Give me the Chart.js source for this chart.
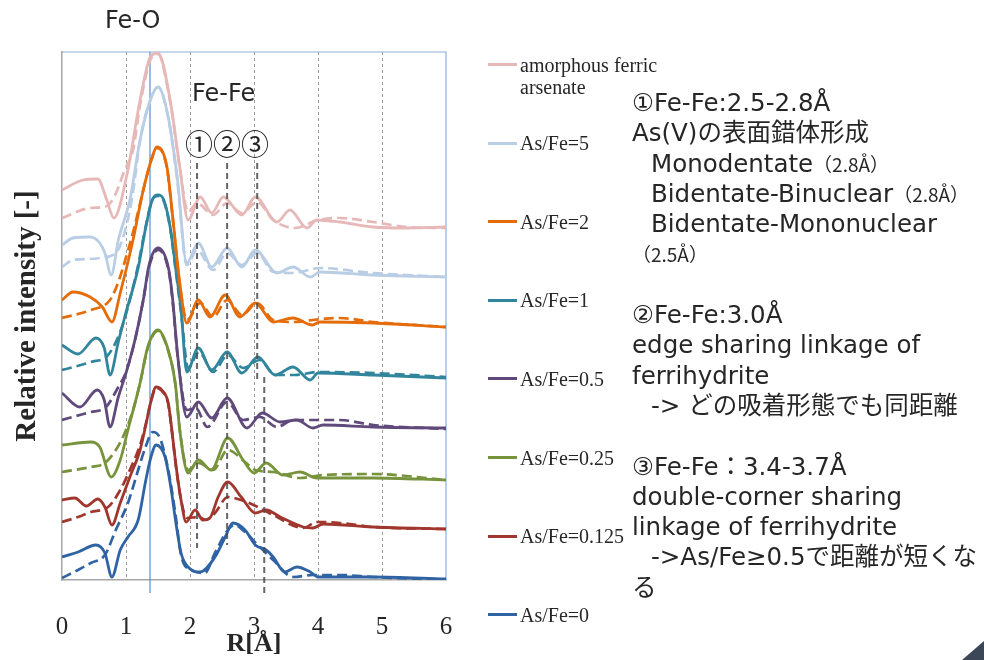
<!DOCTYPE html>
<html lang="ja">
<head>
<meta charset="utf-8">
<title>Fe K-edge EXAFS RSF</title>
<script src="https://cdn.jsdelivr.net/npm/chart.js@4.4.1/dist/chart.umd.min.js"></script>
<style>
  html, body { margin: 0; padding: 0; background: #fff; }
  #stage { position: relative; width: 984px; height: 660px; overflow: hidden; }
  #stage canvas { position: absolute; left: 0; top: 0; }
  .note { position: absolute; white-space: nowrap; color: #262626;
          font-family: "DejaVu Sans", "Noto Sans CJK JP", sans-serif; }
  .note small { font-family: "Noto Sans CJK JP", sans-serif; font-size: 19px; }
  .note .in { padding-left: 19px; }
  .leg-line { position: absolute; left: 488px; width: 29px; height: 3px; }
  .leg-text { position: absolute; left: 520px; width: 150px; color: #262626;
              font-family: "Liberation Serif", serif; font-size: 20px; line-height: 22px; }
  #corner { position: absolute; right: 0; bottom: 0; width: 22px; height: 19px; background: #3B4756;
            clip-path: polygon(100% 0, 100% 100%, 0 100%); }
</style>
</head>
<body>
<div id="stage">
  <canvas id="rsf" width="984" height="660"></canvas>
  <div class="note" style="left:105px;top:4px;font-size:24px;line-height:32px;">Fe-O</div>
  <div class="note" style="left:192px;top:77px;font-size:24px;line-height:32px;">Fe-Fe</div>
  <div class="note" style="left:185px;top:125px;font-size:28px;line-height:36px;font-family:'Noto Sans CJK JP',sans-serif;">①②③</div>
  <div id="legend"></div>
  <div class="note" style="left:632px;top:88px;font-size:24.5px;line-height:30.3px;">
    <div>①Fe-Fe:2.5-2.8Å</div>
    <div>As(V)の表面錯体形成</div>
    <div class="in">Monodentate<small>（2.8Å）</small></div>
    <div class="in">Bidentate-Binuclear<small>（2.8Å）</small></div>
    <div class="in">Bidentate-Mononuclear</div>
    <div><small>（2.5Å）</small></div>
    <div>&nbsp;</div>
    <div>②Fe-Fe:3.0Å</div>
    <div>edge sharing linkage of</div>
    <div>ferrihydrite</div>
    <div class="in">-&gt; どの吸着形態でも同距離</div>
    <div>&nbsp;</div>
    <div>③Fe-Fe：3.4-3.7Å</div>
    <div>double-corner sharing</div>
    <div>linkage of ferrihydrite</div>
    <div class="in">-&gt;As/Fe≥0.5で距離が短くな</div>
    <div>る</div>
  </div>
  <div id="corner"></div>
</div>
<script>
// sample names, top to bottom
const seriesLabels = ['amorphous ferric arsenate', 'As/Fe=5', 'As/Fe=2', 'As/Fe=1',
                      'As/Fe=0.5', 'As/Fe=0.25', 'As/Fe=0.125', 'As/Fe=0'];
const rTicks = [0, 1, 2, 3, 4, 5, 6];

// measured spectra [R, relative intensity incl. offset]
const expAmorphous = [[0,39.0],[0.33,40.0],[0.56,40.1],[0.70,38.0],[0.81,36.2],[1.02,40.7],[1.22,48.0],[1.38,52.3],[1.5,52.7],[1.69,48.0],[1.84,41.3],[1.97,36.0],[2.16,38.3],[2.34,36.7],[2.52,38.3],[2.81,36.5],[3.02,38.3],[3.36,35.8],[3.56,37.0],[3.83,35.2],[3.98,36.0],[4.34,35.8],[4.86,35.3],[5.39,35.2],[6,35.3]];
const expAs5 = [[0,33.5],[0.17,34.2],[0.44,34.3],[0.59,33.7],[0.67,32.7],[0.77,30.5],[0.88,34.0],[1.06,38.0],[1.22,44.0],[1.38,48.0],[1.5,49.3],[1.66,46.3],[1.80,40.3],[1.95,31.7],[2.13,33.7],[2.34,31.3],[2.58,33.2],[2.81,31.3],[3.02,33.0],[3.36,30.7],[3.61,31.3],[3.88,30.3],[4.03,30.8],[4.86,30.5],[6,30.3]];
const expAs2 = [[0,28.0],[0.17,28.8],[0.44,28.3],[0.63,27.3],[0.78,25.8],[0.91,28.7],[1.11,34.0],[1.27,39.0],[1.41,42.3],[1.48,43.3],[1.64,41.3],[1.73,36.3],[1.84,29.7],[1.95,25.7],[2.13,28.0],[2.31,26.3],[2.55,28.5],[2.78,26.3],[3.02,27.7],[3.3,25.8],[3.61,26.2],[3.91,25.5],[4.03,25.8],[4.86,25.7],[6,25.3]];
const expAs1 = [[0,23.5],[0.25,22.6],[0.53,24.2],[0.66,23.2],[0.75,20.5],[0.88,23.8],[0.98,26.3],[1.19,31.2],[1.31,35.3],[1.41,38.0],[1.5,38.5],[1.59,38.0],[1.69,35.3],[1.78,31.0],[1.86,27.0],[1.95,20.8],[2.13,23.2],[2.34,21.0],[2.58,22.8],[2.81,20.7],[3.06,22.3],[3.33,20.5],[3.61,21.3],[3.88,20.0],[4.0,20.7],[4.86,20.5],[6,20.2]];
const expAs05 = [[0,18.7],[0.28,17.3],[0.55,19.0],[0.66,18.0],[0.75,15.3],[0.88,18.3],[1.0,20.7],[1.14,24.0],[1.27,28.0],[1.36,31.5],[1.5,33.2],[1.67,31.0],[1.73,28.0],[1.81,22.3],[1.95,16.3],[2.13,17.8],[2.34,16.2],[2.58,18.2],[2.89,15.2],[3.13,16.7],[3.41,15.8],[3.67,16.0],[3.92,15.2],[4.08,15.5],[4.86,15.3],[6,15.2]];
const expAs025 = [[0,13.5],[0.45,13.8],[0.59,13.3],[0.77,10.3],[0.91,12.0],[1.03,15.0],[1.22,19.7],[1.34,23.3],[1.5,25.0],[1.66,23.0],[1.77,19.7],[1.84,15.0],[1.97,10.7],[2.13,12.0],[2.33,11.0],[2.59,14.2],[2.83,12.0],[3.0,10.7],[3.19,11.7],[3.45,10.5],[3.72,10.8],[3.98,10.2],[4.86,10.2],[6,10.0]];
const expAs0125 = [[0,8.0],[0.2,8.2],[0.38,7.4],[0.56,8.1],[0.67,7.3],[0.78,5.5],[0.91,7.7],[1.06,10.3],[1.22,13.0],[1.31,15.5],[1.38,17.6],[1.47,19.3],[1.56,19.0],[1.66,17.7],[1.72,14.8],[1.78,11.5],[1.86,8.0],[1.94,5.8],[2.08,7.0],[2.2,6.0],[2.31,6.2],[2.44,8.3],[2.59,9.8],[2.8,8.3],[3.02,6.7],[3.19,7.0],[3.41,6.3],[3.77,5.3],[3.92,5.2],[4.08,5.6],[4.86,5.3],[6,5.1]];
const expAs0 = [[0,2.3],[0.25,2.8],[0.53,3.5],[0.67,2.7],[0.78,0.3],[0.91,3.0],[1.03,4.3],[1.19,6.0],[1.31,10.0],[1.39,12.3],[1.47,13.5],[1.61,12.3],[1.70,9.3],[1.78,5.7],[1.86,2.7],[1.97,1.3],[2.16,0.8],[2.39,2.3],[2.55,4.3],[2.67,5.7],[2.86,5.0],[3.02,3.5],[3.19,3.0],[3.3,2.3],[3.48,0.8],[3.67,1.3],[3.88,0.8],[4.0,0.3],[4.86,0.3],[6,0.1]];

// fitted curves (dashed)
const fitAmorphous = [[0,36.2],[0.44,37.2],[0.70,37.4],[0.83,38.5],[0.98,41.0],[1.11,43.0],[1.22,47.5],[1.38,52.0],[1.5,52.6],[1.69,47.8],[1.84,41.2],[1.97,36.8],[2.11,37.7],[2.36,36.5],[2.58,37.7],[2.81,36.7],[3.05,37.8],[3.3,36.0],[3.64,35.2],[4.0,36.0],[4.34,36.2],[4.86,35.8],[5.39,35.3],[6,35.2]];
const fitAs5 = [[0,31.3],[0.17,32.0],[0.44,32.1],[0.59,32.2],[0.84,32.7],[0.98,34.8],[1.11,38.8],[1.22,44.0],[1.38,48.0],[1.5,49.3],[1.66,46.2],[1.80,40.0],[1.95,31.5],[2.11,33.0],[2.36,31.0],[2.58,32.7],[2.81,31.5],[3.05,32.7],[3.3,30.8],[3.61,30.7],[4.03,31.2],[4.86,30.7],[6,30.3]];
const fitAs2 = [[0,26.2],[0.45,27.0],[0.75,28.0],[0.88,29.8],[1.02,32.7],[1.14,35.5],[1.27,39.0],[1.41,42.3],[1.48,43.2],[1.64,41.2],[1.73,36.2],[1.84,29.6],[1.95,26.0],[2.16,27.7],[2.36,26.3],[2.58,28.0],[2.81,26.5],[3.05,27.7],[3.3,26.0],[3.61,25.8],[3.92,26.0],[4.34,26.2],[4.86,25.8],[6,25.3]];
const fitAs1 = [[0,21.0],[0.45,21.8],[0.72,22.5],[0.92,25.0],[1.06,28.0],[1.19,31.5],[1.31,35.4],[1.41,38.0],[1.5,38.4],[1.59,37.9],[1.69,35.2],[1.78,30.8],[1.86,26.8],[1.97,21.2],[2.14,22.8],[2.36,20.8],[2.59,22.5],[2.83,21.2],[3.09,22.0],[3.33,20.5],[3.64,20.5],[4.0,20.8],[4.86,20.7],[6,20.3]];
const fitAs05 = [[0,16.0],[0.45,16.8],[0.67,17.2],[0.88,19.3],[1.0,20.8],[1.14,24.0],[1.27,28.0],[1.36,31.3],[1.5,33.0],[1.67,30.8],[1.73,27.8],[1.81,22.2],[1.95,17.0],[2.09,17.2],[2.27,15.3],[2.58,17.8],[2.83,16.0],[3.09,16.3],[3.36,15.3],[3.61,16.0],[4.34,16.0],[4.86,15.5],[6,15.1]];
const fitAs025 = [[0,10.8],[0.45,11.3],[0.67,11.7],[0.84,13.0],[0.98,14.7],[1.11,17.0],[1.22,19.7],[1.34,23.2],[1.5,24.9],[1.66,22.9],[1.77,19.6],[1.84,15.0],[1.97,11.0],[2.13,11.7],[2.36,11.0],[2.59,13.0],[2.86,11.8],[3.02,11.0],[3.3,10.8],[3.72,10.2],[4.08,10.5],[4.86,10.6],[6,10.0]];
const fitAs0125 = [[0,5.8],[0.25,6.3],[0.45,6.8],[0.72,7.3],[0.91,9.0],[1.06,11.0],[1.22,13.5],[1.31,15.6],[1.38,17.6],[1.47,19.2],[1.56,18.9],[1.66,17.6],[1.72,14.7],[1.78,11.4],[1.86,8.0],[1.95,6.2],[2.13,6.3],[2.25,6.0],[2.39,6.7],[2.59,8.3],[2.8,8.0],[3.06,7.3],[3.3,6.5],[3.77,5.2],[3.98,5.8],[4.34,5.7],[4.86,5.3],[6,5.1]];
const fitAs0 = [[0,0.2],[0.25,1.0],[0.45,1.7],[0.67,2.5],[0.84,5.0],[1.03,7.7],[1.19,11.0],[1.3,13.2],[1.42,14.8],[1.53,14.2],[1.66,11.0],[1.77,6.7],[1.86,2.5],[2.02,1.0],[2.23,0.7],[2.39,2.7],[2.59,5.0],[2.7,5.5],[2.86,4.8],[3.06,3.5],[3.3,2.0],[3.61,0.3],[3.92,0.5],[4.34,0.5],[4.86,0.3],[6,0.0]];

// reference lines: Fe-O position and Fe-Fe shells (R, top, bottom)
const feoR = 1.375, feoTop = 52.8, feoBottom = -1.3;
const shellR = [2.11, 2.58, 3.05, 3.16];
const shellTop = [41.7, 41.7, 41.7, 20.3];
const shellBottom = [3.2, 3.5, 20.0, -1.7];

const expSeries = [expAmorphous, expAs5, expAs2, expAs1, expAs05, expAs025, expAs0125, expAs0];
const fitSeries = [fitAmorphous, fitAs5, fitAs2, fitAs1, fitAs05, fitAs025, fitAs0125, fitAs0];
const lineColors = ['#E6B9B8', '#B9CDE5', '#E46C0A', '#31859C', '#604A7B', '#77933C', '#A0372F', '#2F63A4'];

const toXY = pts => pts.map(p => ({ x: p[0], y: p[1] }));

const datasets = [];
seriesLabels.forEach((name, i) => {
  datasets.push({ label: name + ' fit', data: toXY(fitSeries[i]), borderColor: lineColors[i],
                  borderDash: [10, 5], borderWidth: 2.7 });
  datasets.push({ label: name, data: toXY(expSeries[i]), borderColor: lineColors[i], borderWidth: 2.8 });
});

const refLines = {
  id: 'refLines',
  beforeDatasetsDraw(chart) {
    const { ctx, chartArea: a, scales: { x, y } } = chart;
    ctx.save();
    ctx.strokeStyle = '#8DB0DA';
    ctx.lineWidth = 1.2;
    ctx.beginPath();
    ctx.moveTo(a.left, a.top);
    ctx.lineTo(a.right, a.top);
    ctx.lineTo(a.right, a.bottom);
    ctx.stroke();
    const fx = x.getPixelForValue(feoR);
    ctx.strokeStyle = '#5B8BC9';
    ctx.beginPath();
    ctx.moveTo(fx, y.getPixelForValue(feoTop));
    ctx.lineTo(fx, y.getPixelForValue(feoBottom));
    ctx.stroke();
    ctx.restore();
  },
  afterDatasetsDraw(chart) {
    const { ctx, scales: { x, y } } = chart;
    ctx.save();
    ctx.strokeStyle = 'rgba(75,75,75,0.85)';
    ctx.lineWidth = 2;
    ctx.setLineDash([6, 4]);
    shellR.forEach((r, i) => {
      const px = x.getPixelForValue(r);
      ctx.beginPath();
      ctx.moveTo(px, y.getPixelForValue(shellTop[i]));
      ctx.lineTo(px, y.getPixelForValue(shellBottom[i]));
      ctx.stroke();
    });
    ctx.restore();
  }
};

const serif = '"Liberation Serif", "Times New Roman", serif';

new Chart(document.getElementById('rsf'), {
  type: 'line',
  data: { datasets },
  options: {
    responsive: false,
    animation: false,
    devicePixelRatio: 1,
    layout: { padding: { top: 52, right: 538, left: 0, bottom: 0 } },
    elements: { point: { radius: 0 }, line: { cubicInterpolationMode: 'monotone', fill: false } },
    plugins: { legend: { display: false }, tooltip: { enabled: false } },
    scales: {
      x: {
        type: 'linear', min: 0, max: 6,
        afterFit(s) { s.height = 80; },
        afterBuildTicks(s) { s.ticks = rTicks.map(v => ({ value: v })); },
        ticks: { padding: 32, color: '#262626', maxRotation: 0, font: { family: serif, size: 25 } },
        grid: {
          drawTicks: false, lineWidth: 1,
          color: c => (c.tick && (c.tick.value === 0 || c.tick.value === 6)) ? 'rgba(0,0,0,0)' : '#9A9A9A'
        },
        border: { color: '#A6A6A6', width: 1.5, dash: [3, 3] },
        title: { display: true, text: 'R[Å]', color: '#262626',
                 font: { family: serif, size: 26, weight: 'bold', lineHeight: 1.2 },
                 padding: { top: 0, bottom: 0 } }
      },
      y: {
        type: 'linear', min: 0, max: 52.8,
        afterFit(s) { s.width = 62; },
        ticks: { display: false },
        grid: { display: false },
        border: { color: '#A6A6A6', width: 1.5 },
        title: { display: true, text: 'Relative intensity [-]', color: '#262626',
                 font: { family: serif, size: 29, weight: 'bold', lineHeight: 1.2 },
                 padding: { top: 10, bottom: 0 } }
      }
    }
  },
  plugins: [refLines]
});

// legend beside the plot
const legend = document.getElementById('legend');
seriesLabels.forEach((name, i) => {
  const cy = 64.5 + i * 78.6;
  const sample = document.createElement('div');
  sample.className = 'leg-line';
  sample.style.top = (cy - 1.5) + 'px';
  sample.style.background = lineColors[i];
  const text = document.createElement('div');
  text.className = 'leg-text';
  text.style.top = (cy - 11) + 'px';
  text.textContent = name;
  legend.appendChild(sample);
  legend.appendChild(text);
});
</script>
</body>
</html>
